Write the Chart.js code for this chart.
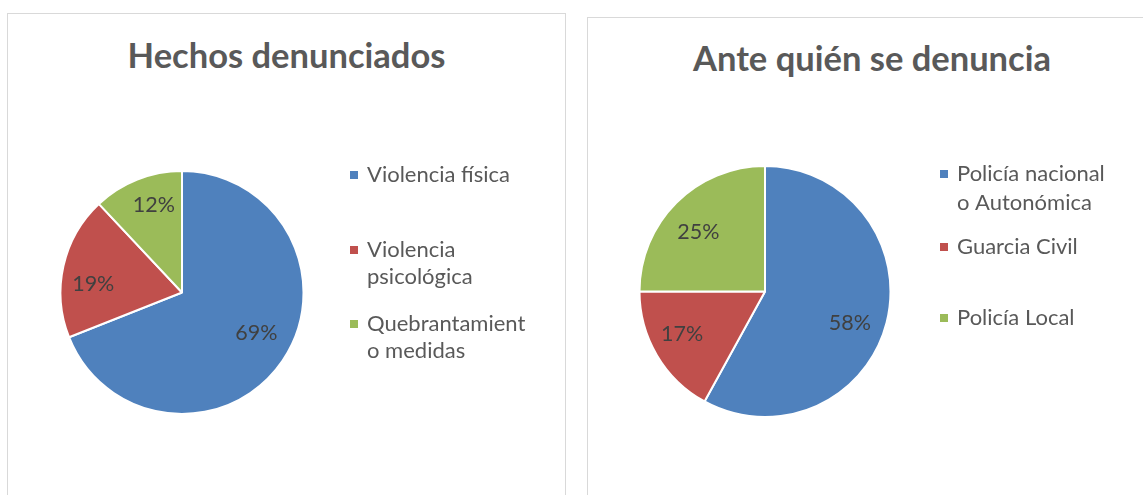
<!DOCTYPE html>
<html>
<head>
<meta charset="utf-8">
<script src="https://cdn.jsdelivr.net/npm/chart.js@4"></script>
<style>
    body { margin: 0; width: 1143px; height: 495px; overflow: hidden; background: #fff; position: relative; font-family: Lato, "Open Sans", sans-serif; }
    .panel { position: absolute; border: 1px solid #d9d9d9; box-sizing: border-box; }
    .title { position: absolute; left: 0; right: 0; text-align: center; color: #595959; font-weight: bold; font-size: 34.5px; line-height: 41px; }
    canvas { position: absolute; left: 0; top: 0; }
</style>
</head>
<body>
<div class="panel" id="panel1" style="left:7px; top:13px; width:559px; height:520px;">
    <div class="title" style="top:20px;">Hechos denunciados</div>
    <canvas id="pie1" width="557" height="481"></canvas>
</div>
<div class="panel" id="panel2" style="left:587px; top:17px; width:570px; height:520px;">
    <div class="title" style="top:19px;">Ante quién se denuncia</div>
    <canvas id="pie2" width="556" height="477"></canvas>
</div>
<script>
// hechos denunciados
var hechosLabels = ["Violencia física", ["Violencia", "psicológica"], ["Quebrantamient", "o medidas"]];
var hechosValues = [69, 19, 12];

// ante quien se denuncia
var anteLabels = [["Policía nacional", "o Autonómica"], "Guarcia Civil", "Policía Local"];
var anteValues = [58, 17, 25];

var pieColors = ["#4F81BD", "#C0504D", "#9BBB59"];

// draws the percent inside each slice and the legend on the right
var excelLook = {
    id: "excelLook",
    afterDatasetsDraw: function (chart, args, opts) {
        var ctx = chart.ctx;
        var meta = chart.getDatasetMeta(0);
        var data = chart.data.datasets[0].data;
        var total = data.reduce(function (a, b) { return a + b; }, 0);
        ctx.save();
        ctx.font = "21.5px Lato, 'Open Sans', sans-serif";
        ctx.fillStyle = "#404040";
        ctx.textAlign = "center";
        ctx.textBaseline = "middle";
        meta.data.forEach(function (arc, i) {
            var p = arc.getProps(["x", "y", "startAngle", "endAngle", "outerRadius"], true);
            var mid = (p.startAngle + p.endAngle) / 2;
            var r = p.outerRadius * opts.labelRadius;
            var nudge = opts.nudge[i];
            var pct = Math.round(data[i] / total * 100) + "%";
            ctx.fillText(pct, p.x + Math.cos(mid) * r + nudge[0], p.y + Math.sin(mid) * r + nudge[1]);
        });

        // legend
        ctx.font = "22px Lato, 'Open Sans', sans-serif";
        ctx.textAlign = "left";
        chart.data.labels.forEach(function (label, i) {
            var lines = Array.isArray(label) ? label : [label];
            var y = opts.legendY[i];
            ctx.fillStyle = chart.data.datasets[0].backgroundColor[i];
            ctx.fillRect(opts.legendX, y - 4, 8, 8);
            ctx.fillStyle = "#595959";
            lines.forEach(function (line, j) {
                ctx.fillText(line, opts.legendX + 17, y + j * opts.lineGap);
            });
        });
        ctx.restore();
    }
};

function makePie(id, labels, values, pad, radius, legend) {
    new Chart(id, {
        type: "pie",
        data: {
            labels: labels,
            datasets: [{
                data: values,
                backgroundColor: pieColors,
                borderColor: "#ffffff",
                borderWidth: 2,
                hoverOffset: 0,
                offset: 0
            }]
        },
        options: {
            responsive: false,
            animation: false,
            radius: radius,
            layout: { padding: pad },
            events: [],
            plugins: {
                legend: { display: false },
                title: { display: false },
                tooltip: { enabled: false },
                excelLook: legend
            }
        },
        plugins: [excelLook]
    });
}

makePie("pie1", hechosLabels, hechosValues,
    { left: 34, right: 243, top: 158, bottom: 82 }, 121.5,
    { labelRadius: 0.74, nudge: [[0, -10], [-1, 11], [5, -4]],
      legendX: 342, legendY: [161, 236, 310], lineGap: 27 });

makePie("pie2", anteLabels, anteValues,
    { left: 34, right: 236, top: 152, bottom: 82 }, 125.5,
    { labelRadius: 0.74, nudge: [[-5, 8], [-3, -5], [-1, 6]],
      legendX: 352, legendY: [156, 229, 300], lineGap: 29 });
</script>
</body>
</html>
